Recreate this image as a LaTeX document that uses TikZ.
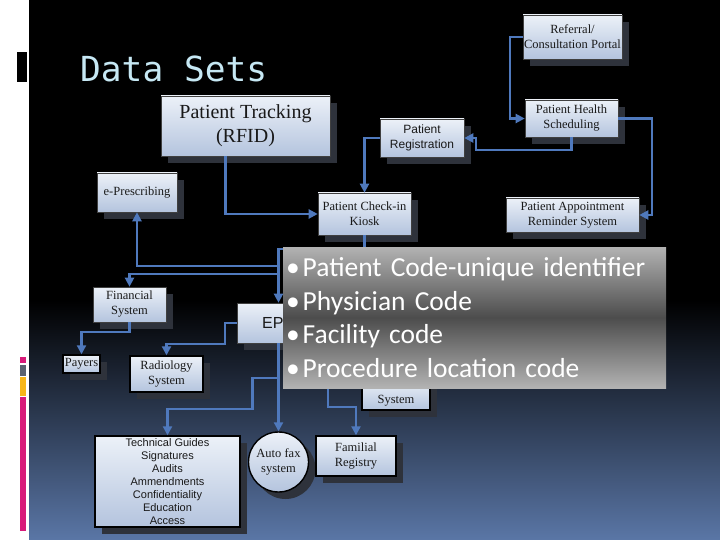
\documentclass[tikz,border=0pt]{standalone}
\usepackage{fontspec}
\setmainfont{Liberation Serif}
\newfontfamily\arialfont{Liberation Sans}
\newfontfamily\calfont{Carlito}
\newfontfamily\titlefont{DejaVu Sans Mono}
\usetikzlibrary{arrows.meta,shadows}
\definecolor{linkblue}{HTML}{4F79BD}
\definecolor{boxtop}{HTML}{ECF1F8}
\definecolor{boxbot}{HTML}{B4C4DE}
\definecolor{shadowgray}{HTML}{2E323B}
\definecolor{slideblue}{HTML}{5A76A6}
\definecolor{titlecyan}{HTML}{C6E8F4}
\definecolor{barpink}{HTML}{D81B7A}
\definecolor{bargray}{HTML}{5A6270}
\definecolor{baryellow}{HTML}{F7B618}
\tikzset{
  box/.style={draw=gray!50!black, line width=0.6pt, top color=boxtop, bottom color=boxbot,
    align=center, inner sep=1pt, text=black!90, font=\fontsize{12.5}{15}\selectfont,
    drop shadow={shadow xshift=7pt, shadow yshift=-7pt, fill=shadowgray, opacity=1}},
  darkbox/.style={box, draw=black, line width=1.4pt},
  link/.style={draw=linkblue, line width=2.2pt, -{Triangle[length=9pt,width=9pt]}},
  codes/.style={top color=black!30, bottom color=black!30, middle color=black!70,
    text=white, align=left, text width=377pt, inner sep=3pt,
    minimum width=383pt, minimum height=141pt, font=\calfont\fontsize{27.5}{33.5}\selectfont}
}
\begin{document}
\begin{tikzpicture}[x=1pt,y=-1pt]
  \useasboundingbox (0,0) rectangle (720,540);
  % slide background
  \fill[white] (0,0) rectangle (720,540);
  \fill[black] (29,0) rectangle (720,300);
  \shade[top color=black, bottom color=slideblue] (29,300) rectangle (720,540);
  \fill[black] (17,52) rectangle (27,82);
  \fill[barpink] (20,357) rectangle (26,363);
  \fill[bargray] (20,365) rectangle (26,376);
  \fill[baryellow] (20,377) rectangle (26,396);
  \fill[barpink] (20,397) rectangle (26,531);
  \node[anchor=base west, inner sep=0, text=titlecyan, font=\titlefont\fontsize{34.5}{40}\selectfont] (title) at (80,82) {Data Sets};

  % top row
  \node[box, minimum width=169, minimum height=60, font=\fontsize{20}{24}\selectfont] (track) at (245.5,126) {Patient Tracking\\(RFID)};
  \node[box, minimum width=97, minimum height=44] (referral) at (572.5,37) {Referral/\\Consultation Portal};
  \node[box, minimum width=93, minimum height=37] (health) at (571.5,118.5) {Patient Health\\Scheduling};
  \node[box, minimum width=84, minimum height=38, font=\arialfont\fontsize{12}{15}\selectfont] (registration) at (422,138) {Patient\\Registration};
  \node[box, minimum width=80, minimum height=39] (eprescribe) at (137,192.5) {e-Prescribing};
  \node[box, minimum width=93, minimum height=42] (checkin) at (364.5,214) {Patient Check-in\\Kiosk};
  \node[box, minimum width=133, minimum height=34] (reminder) at (572.5,215) {Patient Appointment\\Reminder System};

  % middle
  \node[box, minimum width=73, minimum height=35] (financial) at (129.5,304.5) {Financial\\System};
  \node[box, minimum width=83, minimum height=40] (epr) at (278.5,323) {};
  \node[anchor=west, inner sep=0, text=black!90, font=\arialfont\fontsize{16}{18}\selectfont] (eplabel) at (262,323) {EP};
  \node[darkbox, minimum width=37, minimum height=18] (payers) at (81.5,364) {Payers};
  \node[darkbox, minimum width=73, minimum height=36] (radiology) at (166.5,374) {Radiology\\System};
  \node[darkbox, minimum width=68, minimum height=30] (sysbox) at (396,395) {};
  \node[inner sep=0, text=black!90, font=\fontsize{12.5}{15}\selectfont] (syslabel) at (396,401) {System};

  % bottom row
  \node[darkbox, minimum width=145, minimum height=91, font=\arialfont\fontsize{11}{12.9}\selectfont] (guides) at (167.5,481.5)
    {Technical Guides\\Signatures\\Audits\\Ammendments\\Confidentiality\\Education\\Access};
  \node[darkbox, circle, minimum size=60] (autofax) at (278.5,462) {Auto fax\\system};
  \node[darkbox, minimum width=80, minimum height=40] (familial) at (356,456) {Familial\\Registry};

  \coordinate (busa) at (278.5,266);
  \coordinate (busb) at (278.5,274);
  \coordinate (busc) at (278.5,378);
  \coordinate (busd) at (328,380);

  % connectors
  \draw[link] (referral.west) -- ++(-13,0) |- (health.west);
  \draw[link] (health.south) -- ++(0,13) -| ([xshift=12pt]registration.east) -- (registration.east);
  \draw[link] (health.east) -- ++(34,0) |- (reminder.east);
  \draw[link] (registration.west) -| (checkin.north);
  \draw[link] ([xshift=-20pt]track.south) |- (checkin.west);
  \draw[link] (checkin.south) -- ++(0,14) -| (epr.north);
  \draw[link] (busa) -| (eprescribe.south);
  \draw[link] (busb) -| (financial.north);
  \draw[link] (financial.south) -- ++(0,10) -| (payers.north);
  \draw[link] (epr.west) -- ++(-12,0) |- ([yshift=11pt]radiology.north) -- (radiology.north);
  \draw[link] (epr.south) -- (autofax.north);
  \draw[link] (busc) -- ++(-26,0) |- ([yshift=26pt]guides.north) -- (guides.north);
  \draw[link] (busd) |- ([yshift=28pt]familial.north) -- (familial.north);

  % overlay with the codes
  \node[codes] (codelist) at (474.5,317.5) {%
    •\hspace{3pt}Patient Code-unique identifier\\
    •\hspace{3pt}Physician Code\\
    •\hspace{3pt}Facility code\\
    •\hspace{3pt}Procedure location code};
\end{tikzpicture}
\end{document}
